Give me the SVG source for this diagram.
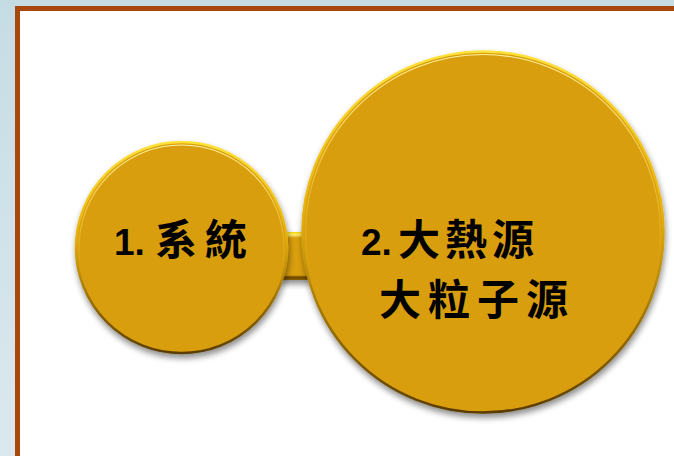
<svg xmlns="http://www.w3.org/2000/svg" width="674" height="456" viewBox="0 0 674 456">
<defs>
<linearGradient id="bg" x1="0" y1="0" x2="0" y2="1">
<stop offset="0" stop-color="#c6dce4"/>
<stop offset="1" stop-color="#dce8ef"/>
</linearGradient>
<linearGradient id="rim" x1="0" y1="0" x2="0" y2="1">
<stop offset="0" stop-color="#ffe23a"/>
<stop offset="0.45" stop-color="#e6b00c"/>
<stop offset="1" stop-color="#5a3c00"/>
</linearGradient>
<linearGradient id="hlg" x1="0" y1="0" x2="0" y2="1">
<stop offset="0" stop-color="#fff3a0" stop-opacity="1"/>
<stop offset="0.35" stop-color="#ffe060" stop-opacity="0.5"/>
<stop offset="0.6" stop-color="#ffe060" stop-opacity="0"/>
</linearGradient>
<linearGradient id="bar" x1="0" y1="0" x2="0" y2="1">
<stop offset="0" stop-color="#f7d600"/>
<stop offset="0.06" stop-color="#ffec70"/>
<stop offset="0.12" stop-color="#dba10b"/>
<stop offset="0.9" stop-color="#d99e0b"/>
<stop offset="0.94" stop-color="#6b4600"/>
<stop offset="1" stop-color="#8a6000"/>
</linearGradient>
<filter id="sh" x="-20%" y="-20%" width="140%" height="140%">
<feGaussianBlur in="SourceAlpha" stdDeviation="3"/>
<feOffset dx="1" dy="4" result="b"/>
<feComponentTransfer><feFuncA type="linear" slope="0.45"/></feComponentTransfer>
<feMerge><feMergeNode/><feMergeNode in="SourceGraphic"/></feMerge>
</filter>
</defs>
<style>
.disc{fill:#d99e0b;stroke:url(#rim);stroke-width:2.5}
.hl{fill:none;stroke:url(#hlg);stroke-width:1.2}
.lbl{font-family:"Liberation Sans","Noto Sans CJK TC",sans-serif;font-weight:bold;font-size:37px;fill:#000}
.cjk{font-family:"Noto Sans CJK TC","Noto Sans CJK SC",sans-serif;font-weight:bold;font-size:42px}
</style>
<rect x="0" y="0" width="674" height="456" fill="url(#bg)"/>
<rect x="17.5" y="8.5" width="700" height="500" fill="#fff" stroke="#a8480c" stroke-width="5"/>
<g id="connectors">
<rect x="280" y="232" width="30" height="48" fill="url(#bar)" filter="url(#sh)"/>
</g>
<g id="node1">
<circle class="disc" cx="181.5" cy="247.5" r="105.5" filter="url(#sh)"/>
<circle class="hl" cx="181.5" cy="247.5" r="102.5"/>
<text class="lbl" x="114" y="255">1.<tspan class="cjk" x="155" letter-spacing="8">系統</tspan></text>
</g>
<g id="node2">
<circle class="disc" cx="483" cy="232" r="180.5" filter="url(#sh)"/>
<circle class="hl" cx="483" cy="232" r="177.5"/>
<text class="lbl" x="361" y="255">2.<tspan class="cjk" x="398" letter-spacing="5">大熱源</tspan></text>
<text class="lbl" x="379" y="315"><tspan class="cjk" letter-spacing="7">大粒子源</tspan></text>
</g>
</svg>
